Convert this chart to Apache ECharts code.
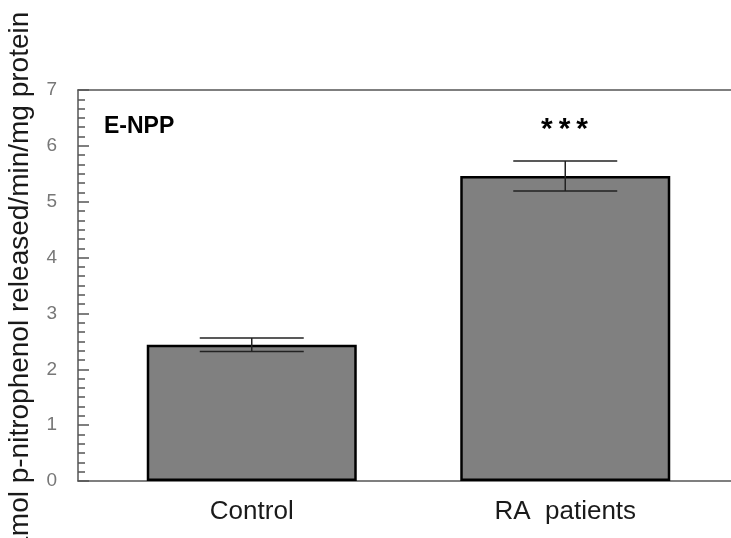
<!DOCTYPE html>
<html>
<head>
<meta charset="utf-8">
<script src="https://cdn.jsdelivr.net/npm/echarts@6/dist/echarts.min.js"></script>
<style>
  html, body { margin: 0; padding: 0; background: #fff; }
  #chart { width: 731px; height: 538px; }
</style>
</head>
<body>
<div id="chart"></div>
<script>
const categories = ['Control', 'RA  patients']
const means = [2.44, 5.46]
const errors = [0.12, 0.27]
const yTicks = [0, 1, 2, 3, 4, 5, 6, 7]
const yTitle = 'µmol p-nitrophenol released/min/mg protein'

const chart = echarts.init(document.getElementById('chart'))

const errorData = categories.map((c, i) => [i, means[i] - errors[i], means[i] + errors[i]])

chart.setOption({
  backgroundColor: '#fff',
  animation: false,
  textStyle: { fontFamily: 'Liberation Sans, Arial, sans-serif' },
  grid: [
    { left: 78, right: 0, top: 90, bottom: 57, outerBoundsMode: 'none' },
    { left: 95, right: 9, top: 90, bottom: 57, outerBoundsMode: 'none' }
  ],
  graphic: [
    {
      type: 'text',
      x: 20,
      y: 282,
      rotation: Math.PI / 2,
      style: {
        text: yTitle,
        font: '28px Liberation Sans',
        fill: '#1a1a1a',
        align: 'center',
        verticalAlign: 'middle'
      }
    },
    {
      type: 'text',
      left: 104,
      top: 115,
      style: { text: 'E-NPP', font: 'bold 23px Liberation Sans', fill: '#000' }
    },
    {
      type: 'text',
      left: 541,
      top: 115,
      style: { text: '*\u2009*\u2009*', font: 'bold 30px Liberation Sans', fill: '#000' }
    }
  ],
  xAxis: [
    {
      gridIndex: 0,
      type: 'value',
      position: 'bottom',
      min: 0,
      max: 1,
      axisLine: { show: true, lineStyle: { color: '#555', width: 1.5 } },
      axisTick: { show: false },
      axisLabel: { show: false },
      splitLine: { show: false }
    },
    {
      gridIndex: 0,
      type: 'value',
      position: 'top',
      min: 0,
      max: 1,
      axisLine: { show: true, lineStyle: { color: '#555', width: 1.5 } },
      axisTick: { show: false },
      axisLabel: { show: false },
      splitLine: { show: false }
    },
    {
      gridIndex: 1,
      type: 'category',
      data: categories,
      axisLine: { show: false },
      axisTick: { show: false },
      axisLabel: { color: '#1a1a1a', fontSize: 26, margin: 18 }
    }
  ],
  yAxis: [
    {
      gridIndex: 0,
      type: 'value',
      min: 0,
      max: 7,
      interval: 1,
      axisLine: { show: true, lineStyle: { color: '#555', width: 1.5 } },
      axisTick: { show: true, inside: true, length: 11, lineStyle: { color: '#555', width: 1.5 } },
      minorTick: { show: true, splitNumber: 6, length: 7, lineStyle: { color: '#555', width: 1.5 } },
      axisLabel: {
        color: '#777',
        fontSize: 19,
        margin: 21,
        formatter: v => (yTicks.includes(v) ? String(v) : '')
      },
      splitLine: { show: false }
    },
    {
      gridIndex: 1,
      type: 'value',
      min: 0,
      max: 7,
      show: false
    }
  ],
  series: [
    {
      type: 'bar',
      xAxisIndex: 2,
      yAxisIndex: 1,
      data: means,
      barWidth: 210,
      itemStyle: { color: '#808080', borderColor: '#000', borderWidth: 2.5 }
    },
    {
      type: 'custom',
      xAxisIndex: 2,
      yAxisIndex: 1,
      data: errorData,
      z: 5,
      renderItem: function(params, api) {
        const x = api.value(0)
        const lo = api.coord([x, api.value(1)])
        const hi = api.coord([x, api.value(2)])
        const half = 52
        const style = { stroke: '#222', lineWidth: 1.5 }
        return {
          type: 'group',
          children: [
            { type: 'line', shape: { x1: hi[0], y1: hi[1], x2: lo[0], y2: lo[1] }, style },
            { type: 'line', shape: { x1: hi[0] - half, y1: hi[1], x2: hi[0] + half, y2: hi[1] }, style },
            { type: 'line', shape: { x1: lo[0] - half, y1: lo[1], x2: lo[0] + half, y2: lo[1] }, style }
          ]
        }
      }
    }
  ]
})
</script>
</body>
</html>
